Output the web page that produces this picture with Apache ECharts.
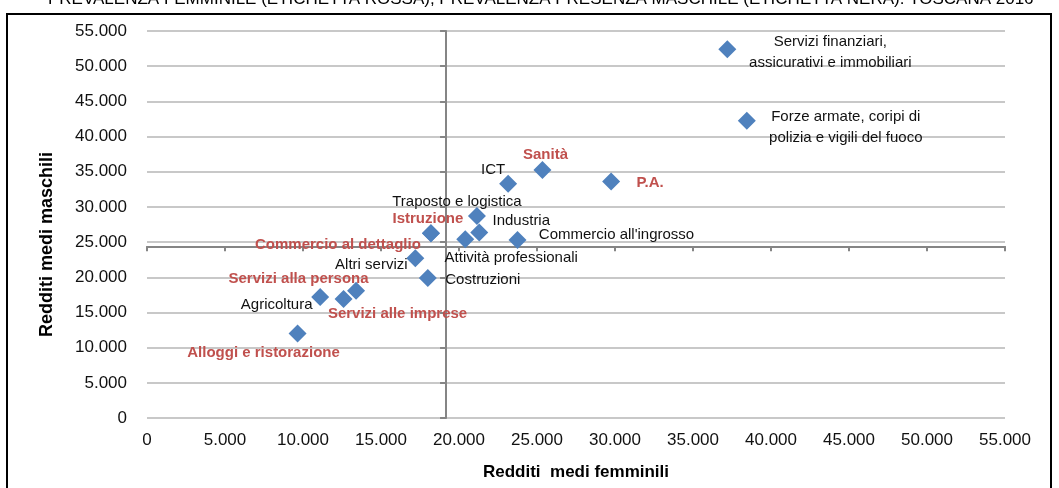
<!DOCTYPE html>
<html>
<head>
<meta charset="utf-8">
<script src="https://cdn.jsdelivr.net/npm/echarts@6/dist/echarts.min.js"></script>
<style>html,body{margin:0;padding:0;background:#fff;}#c{width:1059px;height:488px;}</style>
</head>
<body>
<div id="c"></div>
<script>
// ---- data ----
const sectors = [
  'Servizi finanziari,\nassicurativi e immobiliari',
  'Forze armate, coripi di\npolizia e vigili del fuoco',
  'P.A.',
  'Sanità',
  'ICT',
  'Traposto e logistica',
  'Istruzione',
  'Commercio al dettaglio',
  'Industria',
  "Commercio all'ingrosso",
  'Attività professionali',
  'Altri servizi',
  'Costruzioni',
  'Agricoltura',
  'Servizi alla persona',
  'Servizi alle imprese',
  'Alloggi e ristorazione'
];
const redditiFemminili = [37200, 38450, 29750, 25350, 23150, 21150, 18200, 18200, 21300, 23750, 20400, 17200, 18000, 11100, 12600, 13400, 9650];
const redditiMaschili  = [52400, 42250, 33600, 35250, 33300, 28700, 26250, 26250, 26350, 25300, 25400, 22700, 19900, 17200, 16900, 18100, 12000];
const prevalenzaFemminile = [false, false, true, true, false, false, true, true, false, false, false, false, false, false, true, true, true];
const mediaFemminile = 19170;
const mediaMaschile = 24400;
const tickLabels = ['0','5.000','10.000','15.000','20.000','25.000','30.000','35.000','40.000','45.000','50.000','55.000'];
const axisMax = 55000, axisStep = 5000;
const titleText = 'PREVALENZA FEMMINILE (ETICHETTA ROSSA), PREVALENZA PRESENZA MASCHILE (ETICHETTA NERA). TOSCANA 2016';

// ---- label placement (style, not data) ----
const labelOffsets = [[103,3],[99,7],[39,1],[3,-15],[-15,-14],[-20,-14],[-3,-14],[-93,12],[42,-12],[99,-5],[46,19],[-44,7],[55,2],[-43.5,8],[-45,-20],[41.5,23.6],[-34,19]];

const W = 1059, H = 488;
const G = {left:147, right:54, top:31, bottom:70};
const gw = W - G.left - G.right, gh = H - G.top - G.bottom;
const FONT = '"Liberation Sans", Arial, sans-serif';

const chart = echarts.init(document.getElementById('c'), null, {renderer:'canvas'});

const points = sectors.map((s, i) => ({
  name: s,
  value: [redditiFemminili[i], redditiMaschili[i]],
  label: {
    show: true,
    position: 'inside',
    offset: labelOffsets[i],
    formatter: '{b}',
    align: 'center',
    verticalAlign: 'middle',
    fontFamily: FONT,
    fontSize: 15,
    lineHeight: 21,
    opacity: 1,
    fontWeight: prevalenzaFemminile[i] ? 'bold' : 'normal',
    color: prevalenzaFemminile[i] ? '#c0504d' : '#111'
  }
}));

const tickFmt = v => tickLabels[Math.round(v / axisStep)];

chart.setOption({
  animation: false,
  backgroundColor: '#fff',
  grid: {left:G.left, right:G.right, top:G.top, bottom:G.bottom, containLabel:false},
  graphic: [
    {type:'rect', shape:{x:7, y:14, width:1044, height:490}, style:{fill:'none', stroke:'#000', lineWidth:2}, z:-10, silent:true},
    {type:'text', x:48, y:8, style:{text:titleText, font:'17px ' + FONT, fill:'#000', verticalAlign:'bottom', align:'left'}, silent:true}
  ],
  xAxis: [
    {
      type:'value', min:0, max:axisMax, interval:axisStep,
      name:'Redditi  medi femminili', nameLocation:'middle', nameGap:46,
      nameTextStyle:{fontFamily:FONT, fontSize:17, fontWeight:'bold', color:'#000'},
      axisLine:{show:false}, axisTick:{show:false},
      axisLabel:{formatter:tickFmt, margin:14, fontFamily:FONT, fontSize:17, color:'#111'},
      splitLine:{show:false}
    },
    {
      type:'value', min:0, max:axisMax, interval:axisStep, position:'bottom',
      offset: -(mediaMaschile / axisMax) * gh,
      axisLine:{show:true, lineStyle:{color:'#858585', width:2}},
      axisTick:{show:true, length:5, lineStyle:{color:'#858585', width:2}},
      axisLabel:{show:false}, splitLine:{show:false}
    }
  ],
  yAxis: [
    {
      type:'value', min:0, max:axisMax, interval:axisStep,
      name:'Redditi medi maschili', nameLocation:'middle', nameGap:91, nameRotate:90,
      nameTextStyle:{fontFamily:FONT, fontSize:18, fontWeight:'bold', color:'#000', padding:[0,40,0,0]},
      axisLine:{show:false}, axisTick:{show:false},
      axisLabel:{formatter:tickFmt, margin:20, fontFamily:FONT, fontSize:17, color:'#111'},
      splitLine:{show:true, lineStyle:{color:'#c8c8c8', width:2}}
    },
    {
      type:'value', min:0, max:axisMax, interval:axisStep, position:'left',
      offset: -(mediaFemminile / axisMax) * gw,
      axisLine:{show:true, lineStyle:{color:'#858585', width:2}},
      axisTick:{show:true, length:6, lineStyle:{color:'#858585', width:2}},
      axisLabel:{show:false}, splitLine:{show:false}
    }
  ],
  series: [{
    type:'scatter', xAxisIndex:0, yAxisIndex:0,
    symbol:'diamond', symbolSize:18,
    itemStyle:{color:'#4f81bd', opacity:1},
    data: points,
    z: 5
  }]
});
</script>
</body>
</html>
